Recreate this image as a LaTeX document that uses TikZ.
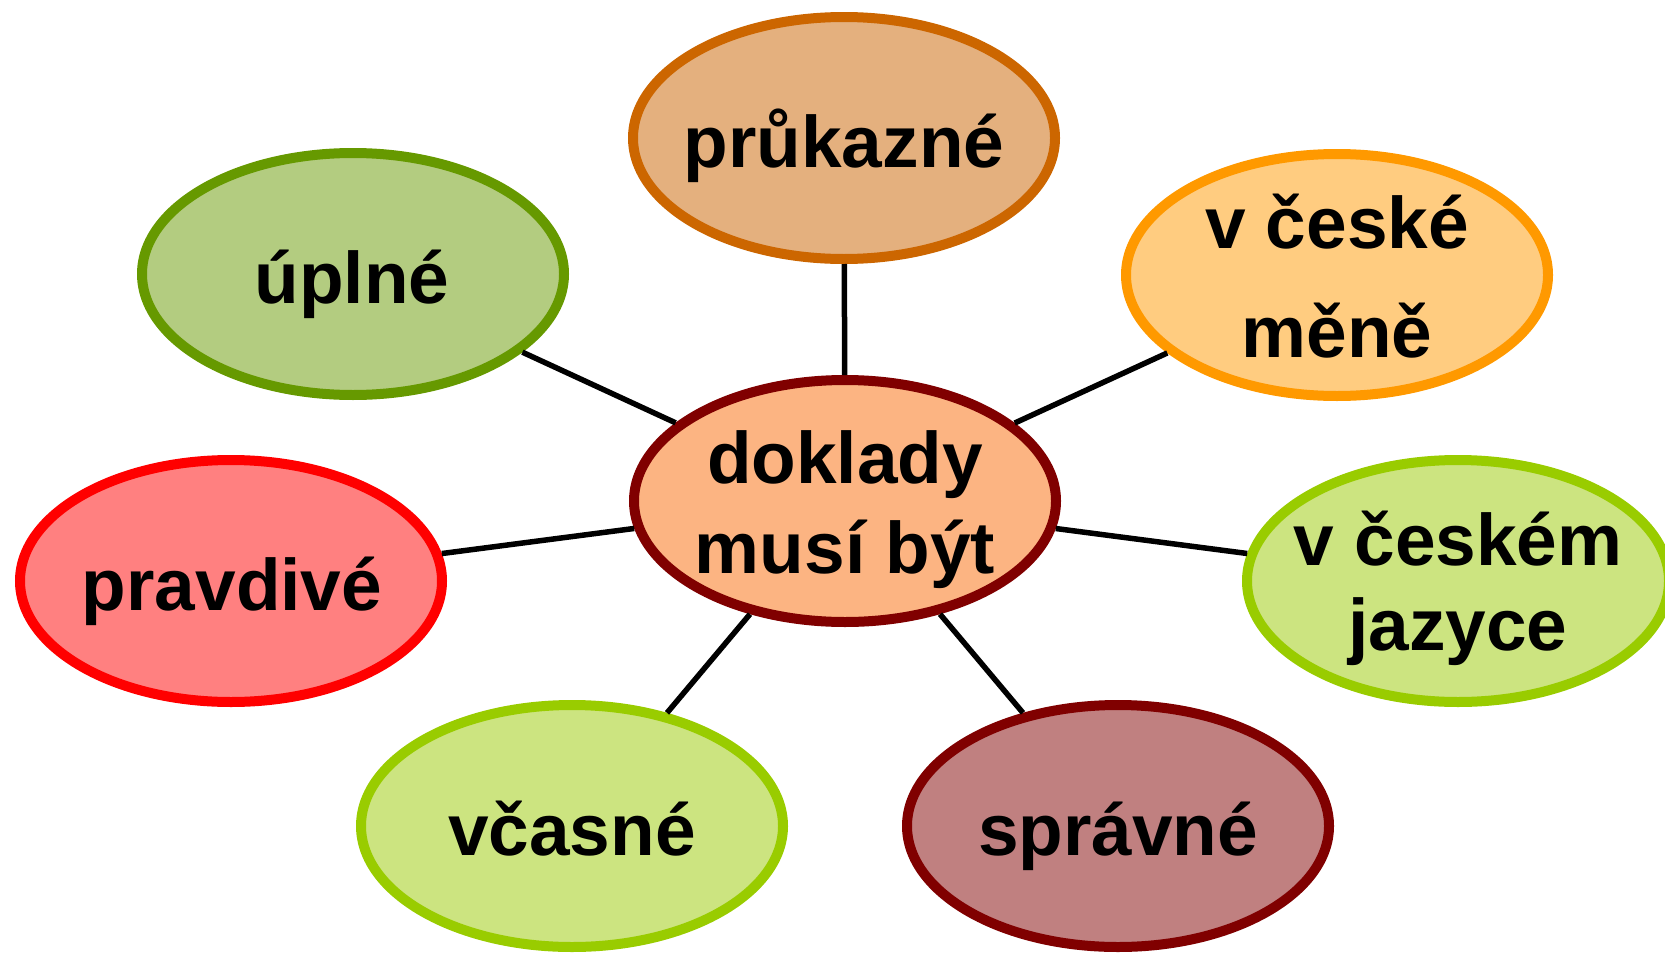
\documentclass[tikz,border=0pt]{standalone}
\usepackage{fontspec}
\setmainfont{Liberation Sans}
\usetikzlibrary{shapes.geometric}
\definecolor{cfill}{RGB}{252,180,130}
\definecolor{cdraw}{RGB}{128,0,0}
\definecolor{pfill}{RGB}{228,176,126}
\definecolor{pdraw}{RGB}{204,102,0}
\definecolor{mfill}{RGB}{255,204,128}
\definecolor{mdraw}{RGB}{255,153,0}
\definecolor{jfill}{RGB}{204,228,128}
\definecolor{jdraw}{RGB}{153,204,0}
\definecolor{ufill}{RGB}{179,204,128}
\definecolor{udraw}{RGB}{102,153,0}
\definecolor{rfill}{RGB}{255,128,128}
\definecolor{rdraw}{RGB}{255,0,0}
\definecolor{sfill}{RGB}{192,128,128}
\definecolor{sdraw}{RGB}{128,0,0}
\tikzset{
  bubble/.style={ellipse, minimum width=422pt, minimum height=242pt, inner sep=0pt, line width=10pt},
  lbl/.style={anchor=base, inner sep=0pt, font=\fontsize{73}{85}\selectfont\bfseries},
  conn/.style={line width=5.5pt, black}
}
\begin{document}
\begin{tikzpicture}[x=1pt,y=-1pt]
\useasboundingbox (0,0) rectangle (1665,953);
\node[bubble, fill=pfill, draw=pdraw] (p) at (844,138) {};
\node[bubble, fill=ufill, draw=udraw] (u) at (353,274) {};
\node[bubble, fill=mfill, draw=mdraw] (m) at (1337,275) {};
\node[bubble, fill=rfill, draw=rdraw] (r) at (231,581) {};
\node[bubble, fill=jfill, draw=jdraw] (j) at (1458,581) {};
\node[bubble, fill=jfill, draw=jdraw] (v) at (572,826) {};
\node[bubble, fill=sfill, draw=sdraw] (s) at (1118,826) {};
\node[bubble, fill=cfill, draw=cdraw] (c) at (845,501) {};
\foreach \t in {p,u,m,r,j,v,s} \draw[conn] (c) -- (\t);
\node[lbl] (tp) at (844,167) {průkazné};
\node[lbl] (tu) at (352,303) {úplné};
\node[lbl] (tm1) at (1337,248) {v české};
\node[lbl] (tm2) at (1337,357) {měně};
\node[lbl] (tr) at (232,610) {pravdivé};
\node[lbl] (tj1) at (1458,565) {v českém};
\node[lbl] (tj2) at (1458,650) {jazyce};
\node[lbl] (tv) at (572,855) {včasné};
\node[lbl] (ts) at (1118,855) {správné};
\node[lbl] (tc1) at (845,483) {doklady};
\node[lbl] (tc2) at (845,573) {musí být};
\end{tikzpicture}
\end{document}
